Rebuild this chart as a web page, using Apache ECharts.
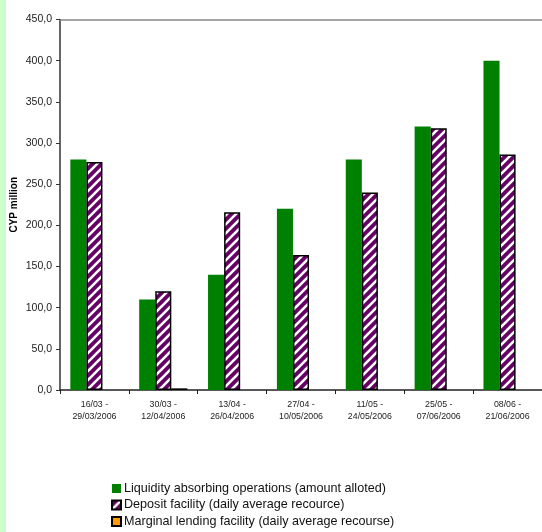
<!DOCTYPE html>
<html>
<head>
<meta charset="utf-8">
<script src="https://cdn.jsdelivr.net/npm/echarts@6/dist/echarts.min.js"></script>
<style>
  html, body { margin: 0; padding: 0; background: #ffffff; }
  #wrap { position: relative; width: 542px; height: 532px; }
  #strip { position: absolute; left: 0; top: 0; width: 6px; height: 532px; background: #ccffcc; }
  #chart { position: absolute; left: 0; top: 0; width: 542px; height: 532px; }
</style>
</head>
<body>
<div id="wrap">
  <div id="strip"></div>
  <div id="chart"></div>
</div>
<script>
// Reserve periods (two-week windows)
const periods = [
  '16/03 -\n29/03/2006',
  '30/03 -\n12/04/2006',
  '13/04 -\n26/04/2006',
  '27/04 -\n10/05/2006',
  '11/05 -\n24/05/2006',
  '25/05 -\n07/06/2006',
  '08/06 -\n21/06/2006'
];

// CYP million
const liquidityAbsorbing = [280, 110, 140, 220, 280, 320, 400];
const depositFacility    = [277, 120, 216, 164, 240, 318, 286];
const marginalLending    = [0, 2, 0, 0, 0, 0, 0];

const seriesNames = [
  'Liquidity absorbing operations (amount alloted)',
  'Deposit facility (daily average recource)',
  'Marginal lending facility (daily average recourse)'
];

const yTicks = { min: 0, max: 450, step: 50 };

// Purple fill with white diagonal stripes
function hatchPattern() {
  const s = 9;
  const c = document.createElement('canvas');
  c.width = s; c.height = s;
  const g = c.getContext('2d');
  g.fillStyle = '#660066';
  g.fillRect(0, 0, s, s);
  g.strokeStyle = '#ffffff';
  g.lineWidth = 2.6;
  g.beginPath();
  g.moveTo(-2, s + 2); g.lineTo(s + 2, -2);
  g.moveTo(-2 - s, s + 2); g.lineTo(2, -2);
  g.moveTo(s - 2, s + 2); g.lineTo(2 * s + 2, -2);
  g.stroke();
  return c;
}

// zero-height bars are left out so no border is drawn for them
const hideZero = arr => arr.map(v => (v === 0 ? '-' : v));

const chart = echarts.init(document.getElementById('chart'), null, { renderer: 'canvas' });

const font = 'Liberation Sans, Arial, sans-serif';

chart.setOption({
  animation: false,
  backgroundColor: 'transparent',
  textStyle: { fontFamily: font },
  grid: { left: 60, right: 0, top: 19.5, bottom: 142, containLabel: false },
  legend: {
    orient: 'vertical',
    left: 106,
    top: 477,
    height: 60,
    itemWidth: 9,
    itemHeight: 9,
    itemGap: 3.5,
    icon: 'rect',
    textStyle: { fontFamily: font, fontSize: 12.6, color: '#111111', padding: [0, 0, 0, -2] },
    data: seriesNames
  },
  xAxis: [
    {
      type: 'category',
      data: periods,
      axisLine: { lineStyle: { color: '#222222', width: 1.5 } },
      axisTick: { show: true, alignWithLabel: false, length: 4, lineStyle: { color: '#222222' } },
      axisLabel: { fontSize: 8.8, color: '#222222', lineHeight: 12, margin: 9, interval: 0 },
      splitLine: { show: false }
    },
    {
      type: 'category',
      position: 'top',
      data: periods,
      axisLine: { lineStyle: { color: '#888888', width: 1.5 } },
      axisTick: { show: false },
      axisLabel: { show: false }
    }
  ],
  yAxis: {
    type: 'value',
    min: yTicks.min,
    max: yTicks.max,
    interval: yTicks.step,
    name: 'CYP million',
    nameLocation: 'middle',
    nameGap: 41,
    nameMoveOverlap: false,
    nameRotate: 90,
    nameTextStyle: { fontSize: 10, fontWeight: 'bold', color: '#000000' },
    axisLine: { show: true, lineStyle: { color: '#333333', width: 1.5 } },
    axisTick: { show: true, length: 4, lineStyle: { color: '#333333' } },
    axisLabel: {
      fontSize: 10.5,
      color: '#222222',
      margin: 8,
      formatter: v => v.toFixed(1).replace('.', ',')
    },
    splitLine: { show: false }
  },
  series: [
    {
      name: seriesNames[0],
      type: 'bar',
      data: liquidityAbsorbing,
      barGap: '0%',
      barCategoryGap: '30%',
      itemStyle: { color: '#008000' }
    },
    {
      name: seriesNames[1],
      type: 'bar',
      data: depositFacility,
      barGap: '0%',
      barCategoryGap: '30%',
      itemStyle: { color: { image: hatchPattern(), repeat: 'repeat' }, borderColor: '#000000', borderWidth: 1.5 }
    },
    {
      name: seriesNames[2],
      type: 'bar',
      data: hideZero(marginalLending),
      barGap: '0%',
      barCategoryGap: '30%',
      itemStyle: { color: '#ff9900', borderColor: '#000000', borderWidth: 1.5 }
    }
  ]
});
</script>
</body>
</html>
